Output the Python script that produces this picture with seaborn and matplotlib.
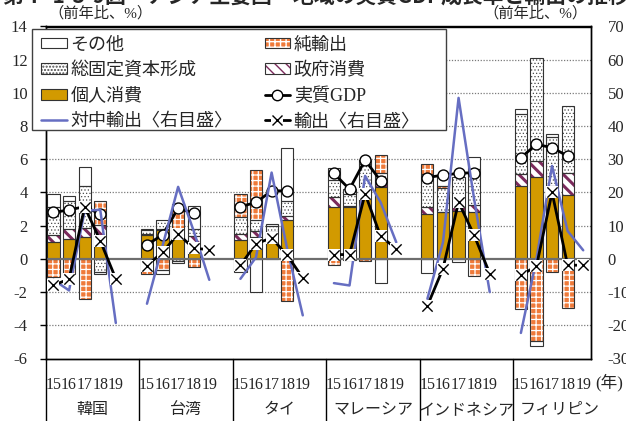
import numpy as np
import pandas as pd
import matplotlib
matplotlib.use("Agg")
import matplotlib.pyplot as plt
import matplotlib.transforms as mtransforms
from matplotlib.patches import Patch, Rectangle
from matplotlib.lines import Line2D
from matplotlib.legend_handler import HandlerTuple
import seaborn as sns

# ---------------------------------------------------------------- data
countries = ["韓国", "台湾", "タイ", "マレーシア", "インドネシア", "フィリピン"]
years = ["15", "16", "17", "18", "19"]

# contributions to real GDP growth (percentage points), 2015-2018
private_cons = [[1.0, 1.2, 1.3, 1.3], [1.45, 1.75, 1.25, 0.9], [1.15, 1.3, 1.55, 2.35],
                [3.15, 3.1, 3.85, 4.35], [2.7, 2.8, 2.9, 2.82], [4.4, 4.94, 3.9, 3.86]]
gov_cons = [[0.45, 0.6, 0.55, 0.75], [0.05, 0.05, 0.1, 0.5], [0.35, 0.4, 0.1, 0.25],
            [0.56, 0.1, 0.3, 0.15], [0.45, 0.05, 0.2, 0.4], [0.7, 0.96, 0.5, 1.33]]
gfcf = [[1.7, 1.7, 2.55, -0.8], [0.25, 0.54, -0.1, 0.4], [1.0, 0.65, 0.35, 0.9],
        [1.04, 0.7, 1.55, 0.7], [1.95, 1.4, 1.86, 2.2], [3.62, 6.2, 2.95, 4.02]]
net_exports = [[-1.1, -0.9, -2.4, 1.45], [-0.9, -0.66, 1.95, -0.5], [1.4, 3.0, 0.0, -2.54],
               [-0.38, -0.05, -0.1, 1.05], [0.6, 0.12, 0.0, -1.0], [-3.03, -4.96, -0.78, -2.97]]
others = [[0.75, 0.3, 1.15, -0.1], [0.06, -0.24, -0.14, 1.4], [-0.78, -2.0, 0.12, 3.18],
          [0.72, 0.3, 0.25, -1.48], [-0.84, 0.65, -0.18, 0.74], [0.32, -0.26, 0.15, 0.0]]

# real GDP growth (%), 2015-2018
real_gdp = [[2.8, 2.95, 3.15, 2.7], [0.85, 1.45, 3.05, 2.75], [3.15, 3.4, 4.1, 4.1],
            [5.15, 4.2, 5.95, 4.7], [4.9, 5.05, 5.15, 5.2], [6.1, 6.9, 6.7, 6.2]]

# exports and exports to China (% y/y, right scale), 2015-2019
exports = [[-8.0, -6.0, 15.7, 5.5, -6.0], [-2.0, 2.0, 7.5, 3.2, 2.8], [-1.9, 4.6, 6.3, 1.1, -5.7],
           [1.3, 1.3, 19.6, 6.8, 3.1], [-14.1, -2.9, 17.1, 7.1, -4.4], [-4.9, -2.2, 20.0, -1.9, -1.9]]
exports_china = [[-6.3, -9.5, 14.5, 14.8, -19.3], [-13.5, 3.9, 21.7, 8.4, -6.3],
                 [-6.0, 0.5, 26.0, 3.0, -17.0], [-7.3, -8.0, 25.0, 17.0, 5.0],
                 [-12.0, 5.0, 48.5, 18.0, -10.0], [-22.3, 0.0, 28.0, 8.4, 2.6]]

# ---------------------------------------------------------------- style
sns.set_theme(style="white")
plt.rcParams["font.family"] = ["Liberation Serif", "Noto Sans CJK JP"]
plt.rcParams["axes.unicode_minus"] = False

GOLD = "#D29A00"
ORANGE = "#EF7A3A"
PURPLE = "#7B2A5C"
BLUE = "#666EC2"
EDGE = "#333333"
DOTS = "#4a4a4a"

# ---------------------------------------------------------------- figure
W, H = 626, 421
L, R, T, B = 45.7, 591.0, 26.5, 358.5
fig = plt.figure(figsize=(W / 100, H / 100), dpi=100)
ax = fig.add_axes([L / W, 1 - B / H, (R - L) / W, (B - T) / H])
ax2 = ax.twinx()

n_c, n_y = len(countries), len(years)
slot = lambda c, y: 6 * c + y

# long table for the line series
rows = []
for c, name in enumerate(countries):
    for y, yr in enumerate(years):
        rows.append({
            "country": name, "pos": slot(c, y),
            "gdp": real_gdp[c][y] if y < 4 else np.nan,
            "exports": exports[c][y], "china": exports_china[c][y],
        })
df = pd.DataFrame(rows)

# ---------------------------------------------------------------- stacked bars
bar_x = np.array([slot(c, y) for c in range(n_c) for y in range(4)], dtype=float)
pos_base = np.zeros(len(bar_x))
neg_base = np.zeros(len(bar_x))
BW = 0.78

def layer(vals, face, hatch=None, hcolor=None, hlw=1.0):
    global pos_base, neg_base
    v = np.array(vals, dtype=float).ravel()
    bottom = np.where(v >= 0, pos_base, neg_base)
    m = v != 0
    if hatch:
        with plt.rc_context({"hatch.linewidth": hlw}):
            bars = ax.bar(bar_x[m], v[m], bottom=bottom[m], width=BW, color=face,
                          edgecolor=hcolor, hatch=hatch, linewidth=0, zorder=2)
            for p in bars:
                if hasattr(p, "set_hatch_linewidth"):
                    p.set_hatch_linewidth(hlw)
    else:
        ax.bar(bar_x[m], v[m], bottom=bottom[m], width=BW, color=face, linewidth=0, zorder=2)
    ax.bar(bar_x[m], v[m], bottom=bottom[m], width=BW, fill=False,
           edgecolor=EDGE, linewidth=0.8, zorder=2.1)
    pos_base = pos_base + np.where(v > 0, v, 0)
    neg_base = neg_base + np.where(v < 0, v, 0)

NET_HATCH, NET_HLW = "+++", 0.9
layer(private_cons, GOLD)
layer(gov_cons, "white", "\\\\\\", PURPLE, 2.2)
layer(gfcf, "white", ".....", DOTS, 0.5)
layer(net_exports, ORANGE, NET_HATCH, "white", NET_HLW)
layer(others, "white")

# ---------------------------------------------------------------- grid and zero line
for yv in [-4, -2, 2, 4, 6, 8, 10, 12]:
    ax.axhline(yv, color="#7a7a7a", lw=0.9, ls=(0, (1, 1.3)), zorder=0.5)
ax.axhline(0, color="#6e6e6e", lw=1.6, zorder=3)

# ---------------------------------------------------------------- lines
sns.lineplot(data=df, x="pos", y="gdp", units="country", estimator=None,
             color="black", linewidth=2, ax=ax, legend=False, zorder=4)
sns.scatterplot(data=df, x="pos", y="gdp", marker="o", s=62, color="white",
                edgecolor="black", linewidth=1, ax=ax, legend=False, zorder=5)

sns.lineplot(data=df, x="pos", y="china", units="country", estimator=None,
             color=BLUE, linewidth=1.8, ax=ax2, legend=False, zorder=3)
sns.lineplot(data=df, x="pos", y="exports", units="country", estimator=None,
             color="black", linewidth=2, ax=ax2, legend=False, zorder=4)
sns.scatterplot(data=df, x="pos", y="exports", marker="s", s=75, color="white",
                linewidth=0, ax=ax2, legend=False, zorder=5)
sns.scatterplot(data=df, x="pos", y="exports", marker="x", s=55, color="black",
                linewidth=1.0, ax=ax2, legend=False, zorder=6)

# ---------------------------------------------------------------- axes
ax.set_xlim(-0.5, 6 * n_c - 1.5)
ax.set_ylim(-6, 14)
ax2.set_ylim(-30, 70)
ax.set_yticks(np.arange(-6, 15, 2))
ax2.set_yticks(np.arange(-30, 71, 10))
for a in (ax, ax2):
    a.set_xlabel("")
    a.set_ylabel("")

ax.set_xticks([slot(c, y) for c in range(n_c) for y in range(n_y)],
              labels=years * n_c)
ax.tick_params(axis="x", length=0, pad=13, labelsize=11.5)
ax.tick_params(axis="y", direction="out", length=4, width=1, pad=9,
               labelsize=12, left=True, color="black")
ax2.tick_params(axis="y", direction="out", length=0, width=1, pad=12,
                labelsize=12, right=True, color="black")
for a in (ax, ax2):
    for s in a.spines.values():
        s.set_color("black")
        s.set_linewidth(1.0)
    a.grid(False)

# category table under the plot
blend = mtransforms.blended_transform_factory(ax.transData, ax.transAxes)
for c in range(n_c):
    ax.plot([6 * c - 0.5, 6 * c - 0.5], [0, -0.25], transform=blend,
            color="black", lw=1.0, clip_on=False)
    ax.text(6 * c + 2.5, -0.155, countries[c], transform=blend, ha="center",
            va="center", fontsize=11.5)

fig.text(595 / W, 1 - 383 / H, "(年)", ha="left", va="center", fontsize=12)
fig.text(48 / W, 1 - 13 / H, "（前年比、%）", ha="left", va="center", fontsize=11)
fig.text(588 / W, 1 - 13 / H, "（前年比、%）", ha="right", va="center", fontsize=11)
fig.text(0.505, 1.010, "第Ⅰ-1-3-9図　アジア主要国・地域の実質GDP成長率と輸出の推移",
         ha="center", va="center", fontsize=15, fontweight="bold",
         family=["Noto Sans CJK JP"])

# ---------------------------------------------------------------- legend
def hatch_patch(face, hatch, hcolor, hlw):
    with plt.rc_context({"hatch.linewidth": hlw}):
        p = Patch(facecolor=face, edgecolor=hcolor, hatch=hatch, linewidth=0)
    if hasattr(p, "set_hatch_linewidth"):
        p.set_hatch_linewidth(hlw)
    return (p, Patch(facecolor="none", edgecolor=EDGE, linewidth=0.8))

h_other = Patch(facecolor="white", edgecolor=EDGE, linewidth=0.8)
h_net = hatch_patch(ORANGE, NET_HATCH, "white", NET_HLW)
h_gfcf = hatch_patch("white", ".....", DOTS, 0.5)
h_gov = hatch_patch("white", "\\\\\\", PURPLE, 2.2)
h_priv = Patch(facecolor=GOLD, edgecolor=EDGE, linewidth=0.8)
h_gdp = Line2D([], [], color="black", lw=2, marker="o", markersize=7.5,
               markerfacecolor="white", markeredgecolor="black")
h_china = Line2D([], [], color=BLUE, lw=1.8)
h_exp = (Line2D([], [], color="black", lw=2, marker="s", markersize=8.5,
                markerfacecolor="white", markeredgewidth=0),
         Line2D([], [], color="none", marker="x", markersize=7,
                markeredgecolor="black", markeredgewidth=1.0))

handles = [h_other, h_gfcf, h_priv, h_china, h_net, h_gov, h_gdp, h_exp]
labels = ["その他", "総固定資本形成", "個人消費", "対中輸出〈右目盛〉",
          "純輸出", "政府消費", "実質GDP", "輸出〈右目盛〉"]

# legend box drawn as its own frame, entries placed inside it
box_l, box_t, box_r, box_b = 32, 29, 446, 130
ax2.add_patch(Rectangle((box_l / W, 1 - box_b / H), (box_r - box_l) / W,
                        (box_b - box_t) / H, transform=fig.transFigure,
                        facecolor="white", edgecolor="#404040", lw=1.0,
                        zorder=9, clip_on=False))
leg = ax2.legend(handles, labels, ncol=2, loc="upper left",
                 bbox_to_anchor=((box_l + 4) / W, 1 - (box_t + 2) / H),
                 bbox_transform=fig.transFigure, borderaxespad=0,
                 fontsize=13, frameon=False, handlelength=1.4, handleheight=0.55,
                 handletextpad=0.2, labelspacing=0.46, borderpad=0.3,
                 columnspacing=1.8,
                 handler_map={tuple: HandlerTuple(ndivide=1, pad=0)})
leg.set_zorder(10)

fig.savefig("out.png", dpi=100)
